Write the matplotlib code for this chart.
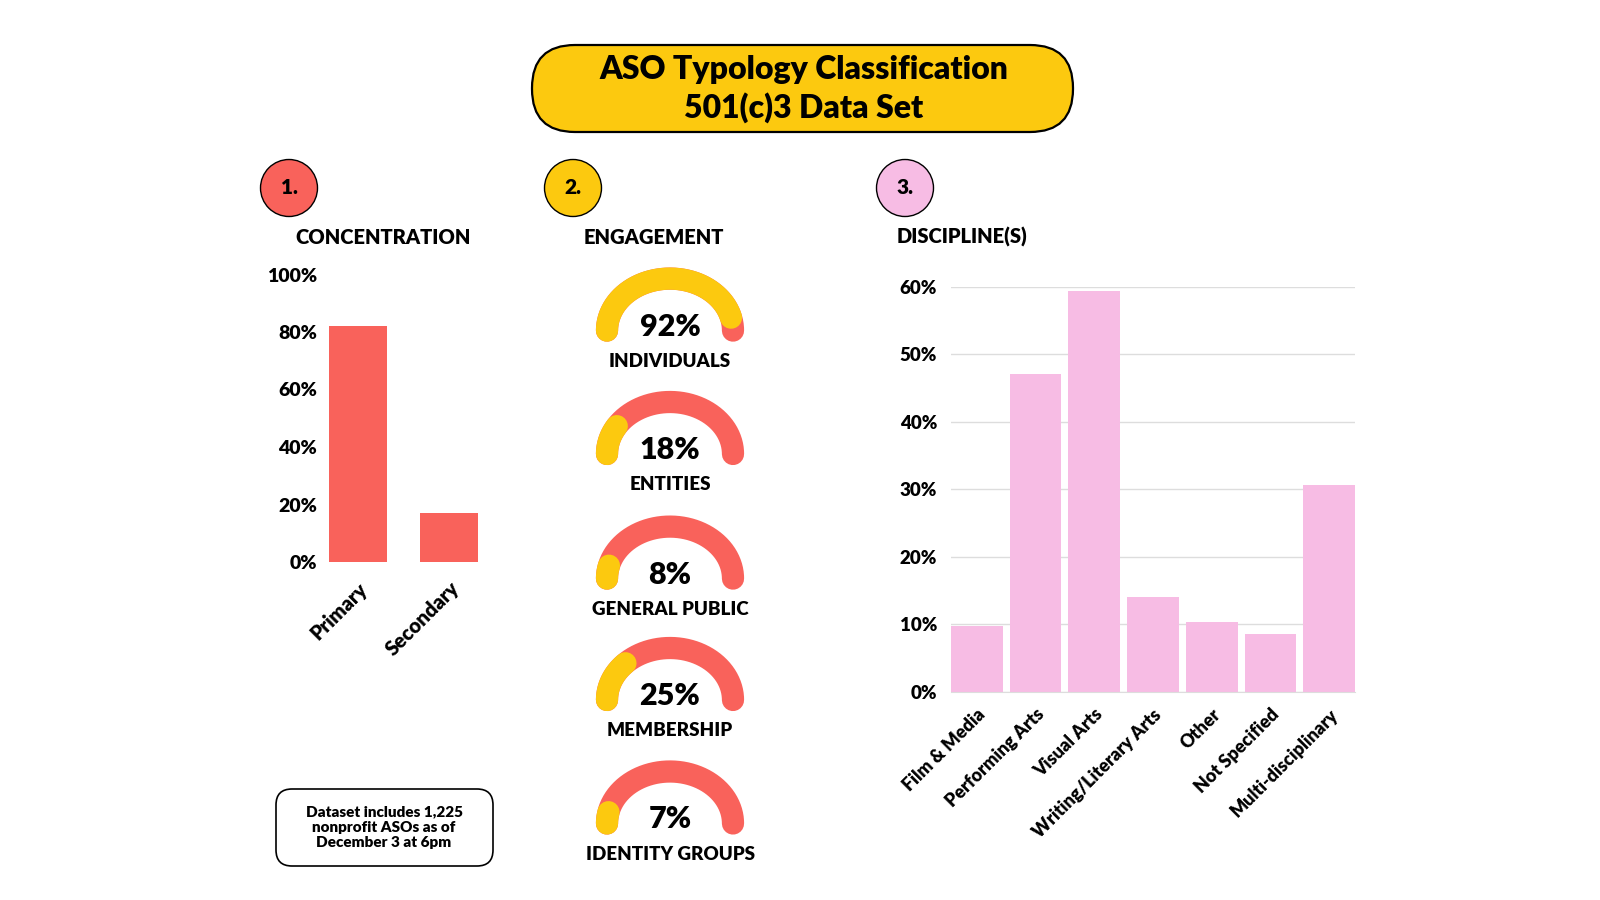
import numpy as np
import matplotlib
matplotlib.use("Agg")
import matplotlib.pyplot as plt
from matplotlib.patches import FancyBboxPatch, Circle

plt.rcParams['font.family'] = ['Lato', 'DejaVu Sans']
plt.rcParams['font.weight'] = 'bold'

RED = '#F9625B'
YELLOW = '#FCC90F'
PINK = '#F7BCE4'

# data
conc_labels = ['Primary', 'Secondary']
conc_values = [82, 17]

eng_labels = ['INDIVIDUALS', 'ENTITIES', 'GENERAL PUBLIC', 'MEMBERSHIP', 'IDENTITY GROUPS']
eng_values = [92, 18, 8, 25, 7]

disc_labels = ['Film & Media', 'Performing Arts', 'Visual Arts', 'Writing/Literary Arts',
               'Other', 'Not Specified', 'Multi-disciplinary']
disc_values = [9.7, 47.1, 59.4, 14.0, 10.4, 8.6, 30.7]

W, H = 1600, 900
fig = plt.figure(figsize=(16, 9), dpi=100)
fig.patch.set_facecolor('white')


def px_axes(left, top, right, bottom, **kw):
    # box given in pixels, y measured from the top
    return fig.add_axes([left / W, 1 - bottom / H, (right - left) / W, (bottom - top) / H], **kw)


# layout layer in pixel units
bg = fig.add_axes([0, 0, 1, 1])
bg.set_xlim(0, W)
bg.set_ylim(H, 0)
bg.axis('off')

bg.add_patch(FancyBboxPatch((532, 45), 541, 87, boxstyle="round,pad=0,rounding_size=43",
                            fc=YELLOW, ec='black', lw=1.6))
bg.text(804, 70, 'ASO Typology Classification', ha='center', va='center', fontsize=23, weight='heavy')
bg.text(804, 108, '501(c)3 Data Set', ha='center', va='center', fontsize=23, weight='heavy')

for (cx, num, col) in [(289, '1.', RED), (573, '2.', YELLOW), (905, '3.', PINK)]:
    bg.add_patch(Circle((cx, 188), 28.5, fc=col, ec='black', lw=1.0))
    bg.text(cx, 188, num, ha='center', va='center', fontsize=15, weight='heavy')

bg.text(383, 237, 'CONCENTRATION', ha='center', va='center', fontsize=14.5, weight='heavy')
bg.text(654, 237, 'ENGAGEMENT', ha='center', va='center', fontsize=14.5, weight='heavy')
bg.text(962, 237, 'DISCIPLINE(S)', ha='center', va='center', fontsize=14.5, weight='heavy')

bg.add_patch(FancyBboxPatch((276, 789), 217, 77, boxstyle="round,pad=0,rounding_size=16",
                            fc='white', ec='black', lw=1.2))
bg.text(384, 827, 'Dataset includes 1,225\nnonprofit ASOs as of\nDecember 3 at 6pm',
        ha='center', va='center', fontsize=11, weight='heavy', linespacing=1.25)

# 1. concentration
ax1 = px_axes(321, 274.5, 486, 562)
ax1.bar(range(len(conc_values)), conc_values, width=0.63, color=RED)
ax1.set_xlim(-0.4, 1.4)
ax1.set_ylim(0, 100)
ax1.set_yticks(range(0, 101, 20))
ax1.set_yticklabels([f'{v}%' for v in range(0, 101, 20)], fontsize=14, weight='heavy')
ax1.set_xticks(range(len(conc_labels)))
ax1.set_xticklabels(conc_labels, rotation=45, ha='right', rotation_mode='anchor',
                    fontsize=14.5, weight='heavy')
ax1.tick_params(axis='y', length=0, pad=3)
ax1.tick_params(axis='x', length=0, pad=12)
for s in ax1.spines.values():
    s.set_visible(False)
ax1.patch.set_alpha(0)

# 2. engagement gauges
centers_y = [330.6, 454, 578.6, 700, 823.5]
for val, lab, cy in zip(eng_values, eng_labels, centers_y):
    ax = px_axes(590, cy - 80, 750, cy + 40)
    ax.set_xlim(-80, 80)
    ax.set_ylim(-40, 80)
    ax.axis('off')
    t = np.linspace(np.pi, 0, 200)
    ax.plot(63 * np.cos(t), 52 * np.sin(t), color=RED, lw=16, solid_capstyle='round')
    ty = np.linspace(np.pi, np.pi - np.pi * val / 100, 200)
    ax.plot(63 * np.cos(ty), 52 * np.sin(ty), color=YELLOW, lw=16, solid_capstyle='round')
    ax.text(0, 4, f'{val}%', ha='center', va='center', fontsize=22, weight='heavy')
    ax.text(0, -31, lab, ha='center', va='center', fontsize=13.5, weight='heavy')

# 3. disciplines
ax3 = px_axes(951, 286.7, 1355, 692)
ax3.bar(range(len(disc_values)), disc_values, width=0.88, color=PINK, zorder=2)
ax3.set_xlim(-0.44, 6.44)
ax3.set_ylim(0, 60)
ax3.set_yticks(range(0, 61, 10))
ax3.set_yticklabels([f'{v}%' for v in range(0, 61, 10)], fontsize=13.5, weight='heavy')
ax3.set_xticks(range(len(disc_labels)))
ax3.set_xticklabels(disc_labels, rotation=45, ha='right', rotation_mode='anchor',
                    fontsize=13, weight='heavy')
ax3.tick_params(length=0, pad=10)
ax3.grid(axis='y', color='#DDDDDD', lw=1, zorder=0)
for k, s in ax3.spines.items():
    s.set_visible(k == 'bottom')
ax3.spines['bottom'].set_color('#DDDDDD')
ax3.patch.set_alpha(0)

fig.savefig('out.png', dpi=100, facecolor='white')
